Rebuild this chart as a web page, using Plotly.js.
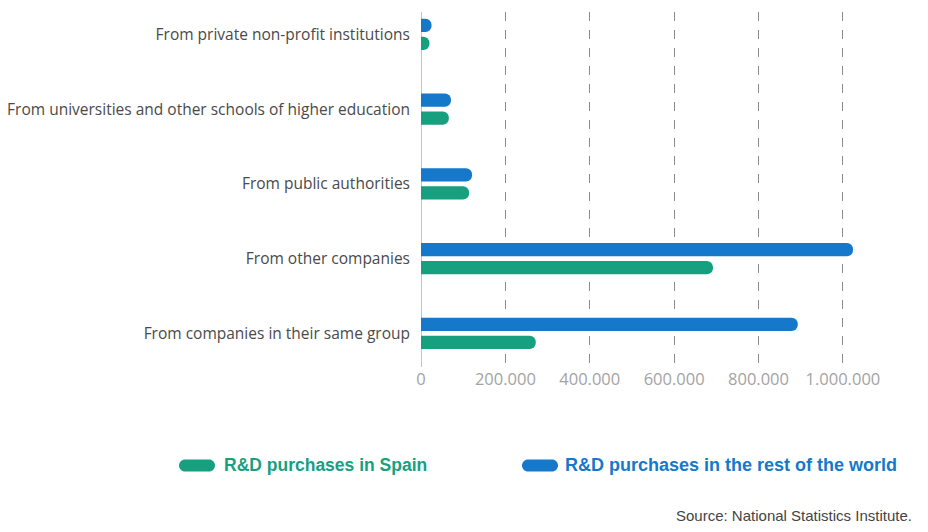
<!DOCTYPE html>
<html>
<head>
<meta charset="utf-8">
<script src="https://cdn.plot.ly/plotly-3.0.1.min.js"></script>
<style>html,body{margin:0;padding:0;background:#fff;}#chart{width:928px;height:532px;}</style>
</head>
<body>
<div id="chart"></div>
<script>
// ---- data ----
var categories = [
  "From companies in their same group",
  "From other companies",
  "From public authorities",
  "From universities and other schools of higher education",
  "From private non-profit institutions"
];
var seriesNames = ["R&D purchases in Spain", "R&D purchases in the rest of the world"];
var spainValues = [272000, 692000, 114000, 66000, 20000];
var worldValues = [893000, 1024000, 121000, 71000, 25000];
var xTickVals = [0, 200000, 400000, 600000, 800000, 1000000];
var sourceText = "Source: National Statistics Institute.";

// ---- style ----
var green = "#17a07f";
var blue = "#1678cb";
var W = 928, H = 532;
var plotL = 421, plotR = 864, plotT = 11.6, plotB = 366.6;
function px2x(px){ return (px - plotL) / (plotR - plotL); }
function py2y(py){ return (plotB - py) / (plotB - plotT); }

var traces = [
  {type: "bar", orientation: "h", name: seriesNames[0], y: categories, x: spainValues,
   marker: {color: green, cornerradius: "50%"}, hoverinfo: "x+name"},
  {type: "bar", orientation: "h", name: seriesNames[1], y: categories, x: worldValues,
   marker: {color: blue, cornerradius: "50%"}, hoverinfo: "x+name"}
];

function pill(xLeftPx, yCenterPx, color){
  return {type: "path", xref: "paper", yref: "paper",
    xsizemode: "pixel", ysizemode: "pixel",
    xanchor: px2x(xLeftPx), yanchor: py2y(yCenterPx),
    path: "M 6,-6 L 30,-6 C 33.3,-6 36,-3.3 36,0 C 36,3.3 33.3,6 30,6 L 6,6 C 2.7,6 0,3.3 0,0 C 0,-3.3 2.7,-6 6,-6 Z",
    fillcolor: color, line: {width: 0}};
}

var layout = {
  width: W, height: H,
  margin: {l: plotL, r: W - plotR, t: plotT, b: H - plotB},
  paper_bgcolor: "#fff", plot_bgcolor: "#fff",
  separators: ",.",
  barmode: "group", bargap: 0.52, bargroupgap: 0.26,
  showlegend: false,
  font: {family: "Open Sans, sans-serif", color: "#4a4a4a"},
  xaxis: {
    range: [0, 1050000], tickvals: xTickVals, tickformat: ",d",
    showgrid: true, gridcolor: "#8a8a8a", griddash: "dash", gridwidth: 1,
    zeroline: true, zerolinecolor: "#c4c4c4", zerolinewidth: 1,
    showline: false, ticks: "",
    tickfont: {family: "Open Sans, sans-serif", size: 16.5, color: "#a3a3a3"}
  },
  yaxis: {
    type: "category", range: [-0.45, 4.3], showgrid: false, zeroline: false,
    showline: false, ticks: "", ticklabelstandoff: 10,
    tickfont: {family: "Open Sans, sans-serif", size: 15.5, color: "#4a4a4a"}
  },
  shapes: [pill(179, 465, green), pill(522, 465, blue)],
  annotations: [
    {xref: "paper", yref: "paper", x: px2x(222), y: py2y(465), xanchor: "left", yanchor: "middle",
     text: "<b>" + seriesNames[0].replace("&", "&amp;") + "</b>", showarrow: false,
     font: {family: "Liberation Sans Narrow, Arial Narrow, sans-serif", size: 17.5, color: green}},
    {xref: "paper", yref: "paper", x: px2x(563), y: py2y(465), xanchor: "left", yanchor: "middle",
     text: "<b>" + seriesNames[1].replace("&", "&amp;") + "</b>", showarrow: false,
     font: {family: "Liberation Sans Narrow, Arial Narrow, sans-serif", size: 18, color: blue}},
    {xref: "paper", yref: "paper", x: px2x(914), y: py2y(515), xanchor: "right", yanchor: "middle",
     text: sourceText, showarrow: false,
     font: {family: "Liberation Sans Narrow, Arial Narrow, sans-serif", size: 15, color: "#444"}}
  ]
};

Plotly.newPlot("chart", traces, layout, {displayModeBar: false, staticPlot: true});
</script>
</body>
</html>
